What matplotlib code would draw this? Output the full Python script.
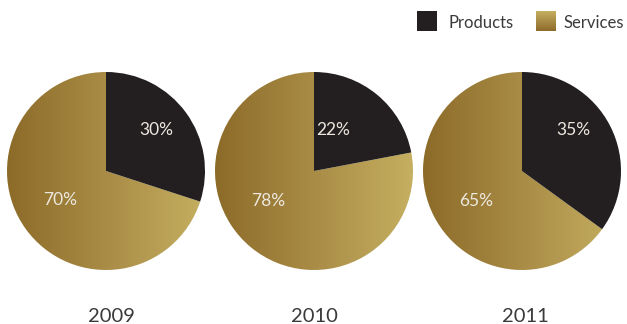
import numpy as np
import matplotlib
matplotlib.use("Agg")
import matplotlib.pyplot as plt
from matplotlib.colors import LinearSegmentedColormap
from matplotlib.patches import Rectangle

years = ["2009", "2010", "2011"]
products = [30, 22, 35]
services = [70, 78, 65]
series = ["Products", "Services"]

dark = "#231f20"
gold = LinearSegmentedColormap.from_list("gold", ["#8c6b28", "#a98c46", "#c5af60"])
label_col = "#ece8df"
text_col = "#3a3a3a"

plt.rcParams["font.family"] = ["Lato", "DejaVu Sans"]

fig = plt.figure(figsize=(6.27, 3.24), dpi=100)
ax = fig.add_axes([0, 0, 1, 1])

grad = np.linspace(0, 1, 256).reshape(1, -1)
centers = [106, 314, 522]
year_x = [111, 314, 525]
cy = 153
r = 99
# label offsets (px) from pie centre: products, services
p_off = [(50, 41), (19, 41), (51, 41)]
s_off = [(-46, -29), (-46, -30), (-46, -30)]

for i, yr in enumerate(years):
    cx = centers[i]
    wedges, _ = ax.pie([products[i], services[i]], center=(cx, cy), radius=r,
                       startangle=90, counterclock=False,
                       colors=[dark, "none"], frame=True)
    wedges[1].set_edgecolor("none")
    im = ax.imshow(grad, cmap=gold, extent=(cx - r, cx + r, cy - r, cy + r),
                   aspect="auto", zorder=0.5)
    im.set_clip_path(wedges[1])
    ax.text(cx + p_off[i][0], cy + p_off[i][1], f"{products[i]}%", color=label_col,
            fontsize=12.5, ha="center", va="center")
    ax.text(cx + s_off[i][0], cy + s_off[i][1], f"{services[i]}%", color=label_col,
            fontsize=12.5, ha="center", va="center")
    ax.text(year_x[i], 8, yr, color=text_col, fontsize=14.5, ha="center", va="center")

# legend
ax.add_patch(Rectangle((417, 293), 20, 20, facecolor=dark, edgecolor="none"))
ax.text(449, 301, series[0], color=text_col, fontsize=12, va="center")
vgrad = np.linspace(1, 0, 256).reshape(-1, 1)
ax.imshow(vgrad, cmap=gold, extent=(536, 556, 293, 313), aspect="auto", zorder=1)
ax.text(564, 301, series[1], color=text_col, fontsize=12, va="center")

ax.set_xlim(0, 627)
ax.set_ylim(0, 324)
ax.set_aspect("equal")
ax.axis("off")
fig.savefig("out.png", dpi=100, facecolor="white")
